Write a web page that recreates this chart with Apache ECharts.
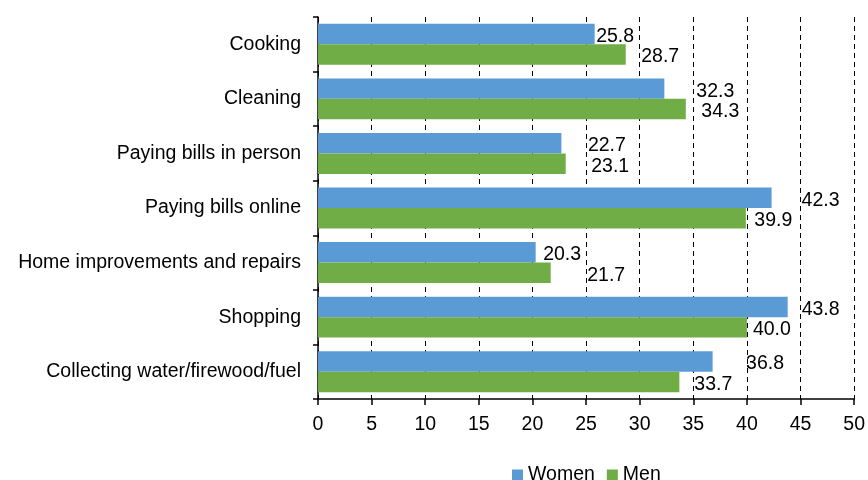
<!DOCTYPE html>
<html>
<head>
<meta charset="utf-8">
<script src="https://cdn.jsdelivr.net/npm/echarts@6/dist/echarts.min.js"></script>
<style>
  html, body { margin: 0; padding: 0; background: #fff; }
  #chart { width: 868px; height: 480px; }
</style>
</head>
<body>
<div id="chart"></div>
<script>
// Time use by activity, women vs men
const categories = [
  'Cooking',
  'Cleaning',
  'Paying bills in person',
  'Paying bills online',
  'Home improvements and repairs',
  'Shopping',
  'Collecting water/firewood/fuel'
];
const women = [25.8, 32.3, 22.7, 42.3, 20.3, 43.8, 36.8];
const men   = [28.7, 34.3, 23.1, 39.9, 21.7, 40.0, 33.7];

// Hand-placed value labels: horizontal nudge (px) past each bar end
const womenLabelNudge = [1.5, 32, 26.5, 30, 7.5, 14, 33.5];
const menLabelNudge   = [15.5, 15.5, 25.5, 8.5, 36.5, 6, 15];

const FONT = '"Liberation Sans", Arial, sans-serif';
const FS = 19.5;

function withLabels(values, nudges) {
  return values.map((v, i) => ({
    value: v,
    label: { offset: [nudges[i], 2.5] }
  }));
}

const chart = echarts.init(document.getElementById('chart'), null, { renderer: 'canvas' });

chart.setOption({
  animation: false,
  backgroundColor: '#ffffff',
  textStyle: { fontFamily: FONT },
  grid: { left: 318, right: 13, top: 17, bottom: 81, containLabel: false },
  legend: {
    data: ['Women', 'Men'],
    left: 507,
    top: 460,
    icon: 'rect',
    itemWidth: 11,
    itemHeight: 11,
    itemGap: 12,
    textStyle: { fontFamily: FONT, fontSize: FS, color: '#000' }
  },
  xAxis: {
    type: 'value',
    min: 0,
    max: 50,
    interval: 5,
    axisLine: { show: true, lineStyle: { color: '#000', width: 1.5 } },
    axisTick: { show: true, length: 6, lineStyle: { color: '#000', width: 1.5 } },
    axisLabel: { color: '#000', fontFamily: FONT, fontSize: FS, margin: 16 },
    splitLine: {
      show: true,
      lineStyle: { color: '#000', width: 1, type: [5, 4] }
    }
  },
  yAxis: {
    type: 'category',
    data: categories,
    inverse: true,
    axisLine: { show: true, lineStyle: { color: '#000', width: 1.5 } },
    axisTick: { show: true, length: 5, lineStyle: { color: '#000', width: 1.5 } },
    axisLabel: {
      color: '#000', fontFamily: FONT, fontSize: FS, margin: 17,
      padding: [4, 0, 0, 0]
    },
    splitLine: { show: false }
  },
  series: [
    {
      name: 'Women',
      type: 'bar',
      data: withLabels(women, womenLabelNudge),
      itemStyle: { color: '#5B9BD5' },
      barGap: '0%',
      barCategoryGap: '25%',
      label: {
        show: true,
        position: 'right',
        distance: 0,
        color: '#000',
        fontFamily: FONT,
        fontSize: FS,
        formatter: p => p.value.toFixed(1)
      }
    },
    {
      name: 'Men',
      type: 'bar',
      data: withLabels(men, menLabelNudge),
      itemStyle: { color: '#70AD47' },
      barGap: '0%',
      barCategoryGap: '25%',
      label: {
        show: true,
        position: 'right',
        distance: 0,
        color: '#000',
        fontFamily: FONT,
        fontSize: FS,
        formatter: p => p.value.toFixed(1)
      }
    }
  ]
});
</script>
</body>
</html>
